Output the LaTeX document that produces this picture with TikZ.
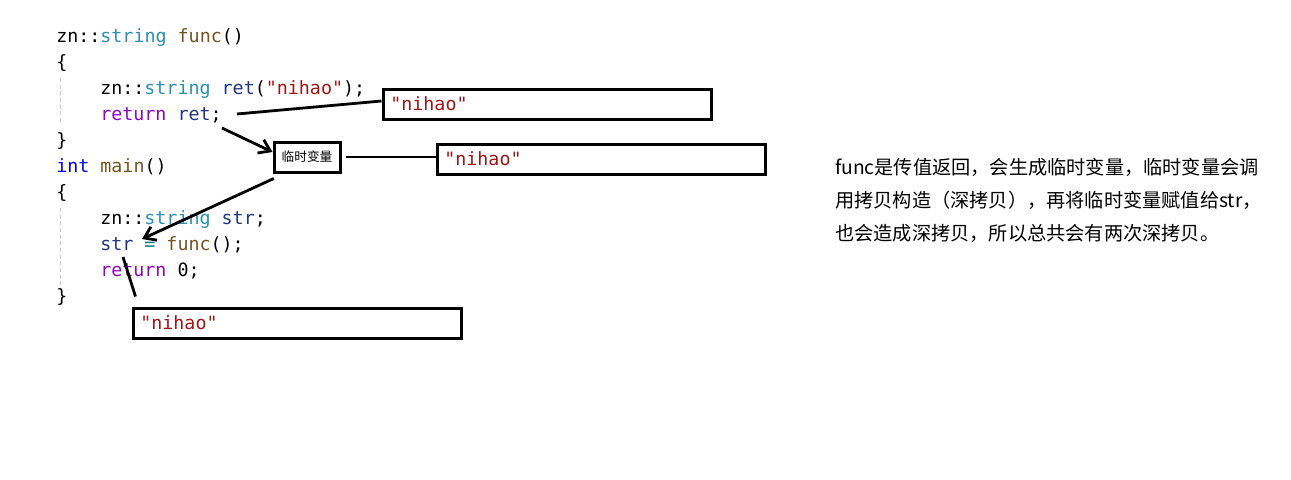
\documentclass[tikz,border=0pt]{standalone}
\usepackage{fontspec}
\usepackage{xcolor}
\usepackage{tikz}
\usetikzlibrary{arrows.meta}
\usetikzlibrary{positioning}
\newfontfamily\codefont{DejaVu Sans Mono}
\newfontfamily\cjk{Noto Sans CJK SC}
\definecolor{typcol}{RGB}{43,145,175}
\definecolor{fncol}{RGB}{116,83,31}
\definecolor{strcol}{RGB}{163,21,21}
\definecolor{kwcol}{RGB}{143,8,196}
\definecolor{intcol}{RGB}{0,0,255}
\definecolor{varcol}{RGB}{31,55,127}
\definecolor{opcol}{RGB}{0,128,128}
\definecolor{guide}{RGB}{200,200,200}
\tikzset{%
  >={Straight Barb[length=8pt,width=11pt]},
  % Specifications for style of nodes:
  code/.style = {anchor=base west, inner sep=0pt,
    font=\codefont\fontsize{13.75}{16}\selectfont},
  valbox/.style = {rectangle, draw=black, line width=2.25pt,
    text width=235pt, inner xsep=5.5pt,
    minimum height=22.5pt, align=left,
    font=\codefont\fontsize{13.75}{16}\selectfont},
  tmpbox/.style = {rectangle, draw=black, line width=2.25pt,
    minimum width=49.5pt, minimum height=22.5pt, inner sep=2pt,
    font=\cjk\fontsize{9.5}{10}\selectfont},
  link/.style = {line width=2.1pt},
}

\begin{document}
\begin{tikzpicture}[x=0.75pt, y=-0.75pt]
  \useasboundingbox (0,0) rectangle (1291,479);
  % indent guides
  \draw[guide, line width=0.75pt, dash pattern=on 3pt off 2pt] (60,78) -- (60,122);
  \draw[guide, line width=0.75pt, dash pattern=on 3pt off 2pt] (60,208) -- (60,286);
  % Specification of nodes (position, etc.)
  \node(LFunc)[code] at (56,42) {zn::\textcolor{typcol}{string} \textcolor{fncol}{func}()};
  \node(LOpenA)[code] at (56,68) {\{};
  \node(LRet)[code] at (100,94) {zn::\textcolor{typcol}{string} \textcolor{varcol}{ret}(\textcolor{strcol}{"nihao"});};
  \node(LReturn)[code] at (100,120) {\textcolor{kwcol}{return} \textcolor{varcol}{ret};};
  \node(LCloseA)[code] at (56,146) {\}};
  \node(LMain)[code] at (56,172) {\textcolor{intcol}{int} \textcolor{fncol}{main}()};
  \node(LOpenB)[code] at (56,198) {\{};
  \node(LStr)[code] at (100,224) {zn::\textcolor{typcol}{string} \textcolor{varcol}{str};};
  \node(LAssign)[code] at (100,250) {\textcolor{varcol}{str} \textcolor{opcol}{=} \textcolor{fncol}{func}();};
  \node(LZero)[code] at (100,276) {\textcolor{kwcol}{return} 0;};
  \node(LCloseB)[code] at (56,302) {\}};

  \node(valRet)[valbox] at (547,104) {\textcolor{strcol}{"nihao"}};
  \node(tmpVar)[tmpbox] at (307,157) {临时变量};
  \node(valTmp)[valbox,right=70.5pt of tmpVar,yshift=-1.5pt] {\textcolor{strcol}{"nihao"}};
  \node(valStr)[valbox] at (297,323) {\textcolor{strcol}{"nihao"}};

  \node(note)[anchor=west, align=left, inner sep=0pt,
    font=\cjk\fontsize{14.4}{24.75}\selectfont] at (835,200)
    {func是传值返回，会生成临时变量，临时变量会调\\
     用拷贝构造（深拷贝），再将临时变量赋值给str，\\
     也会造成深拷贝，所以总共会有两次深拷贝。};

  \coordinate (retEnd) at (237,114);
  \coordinate (retTail) at (222,128);
  \coordinate (strEnd) at (142,239);
  \coordinate (strFoot) at (123,257);
  \draw[link] (retEnd) -- ([yshift=2.25pt]valRet.west);
  \draw[link,->] (retTail) -- ([yshift=3.75pt]tmpVar.west);
  \draw[link] ([xshift=3pt]tmpVar.east) -- (valTmp.west |- tmpVar.east);
  \draw[link,->] ([xshift=1pt,yshift=-3.75pt]tmpVar.south west) -- (strEnd);
  \draw[link] (strFoot) -- ([xshift=3pt,yshift=7.5pt]valStr.north west);
\end{tikzpicture}
\end{document}
